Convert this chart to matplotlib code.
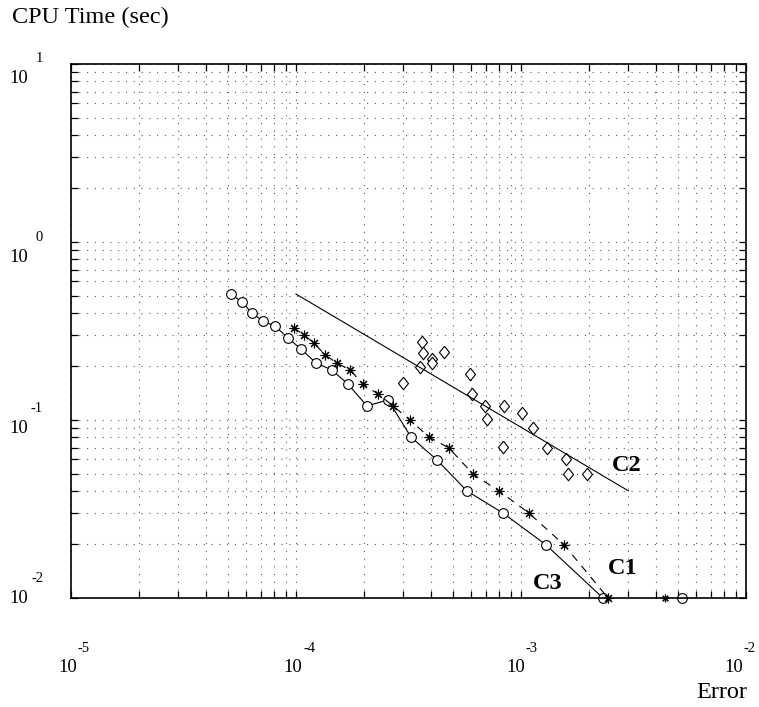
import matplotlib
matplotlib.use("Agg")
import matplotlib.pyplot as plt
from matplotlib.transforms import offset_copy
from matplotlib.ticker import LogLocator, NullFormatter

plt.rcParams['font.family'] = ['Liberation Serif', 'DejaVu Serif']

# C3: circles, solid line
c3_err = [5.14e-5, 5.75e-5, 6.37e-5, 7.13e-5, 8.07e-5, 9.21e-5, 1.052e-4, 1.227e-4,
          1.445e-4, 1.702e-4, 2.068e-4, 2.564e-4, 3.244e-4, 4.233e-4, 5.754e-4,
          8.318e-4, 1.291e-3, 2.314e-3]
c3_cpu = [0.510, 0.460, 0.399, 0.360, 0.337, 0.289, 0.2505, 0.209, 0.191, 0.159,
          0.120, 0.1296, 0.0802, 0.0596, 0.0399, 0.0300, 0.0199, 0.0100]
c3_extra_err = [5.195e-3]
c3_extra_cpu = [0.0100]

# C1: asterisks, dashed line
c1_err = [9.80e-5, 1.085e-4, 1.202e-4, 1.345e-4, 1.521e-4, 1.738e-4, 1.985e-4,
          2.314e-4, 2.698e-4, 3.211e-4, 3.901e-4, 4.786e-4, 6.118e-4, 7.98e-4,
          1.085e-3, 1.553e-3, 2.436e-3]
c1_cpu = [0.329, 0.300, 0.271, 0.232, 0.209, 0.191, 0.159, 0.140, 0.120, 0.100,
          0.0802, 0.0696, 0.0497, 0.0399, 0.0300, 0.0199, 0.0100]
c1_extra_err = [4.365e-3]
c1_extra_cpu = [0.0100]

# C2: diamonds plus fitted straight line
c2_err = [3.63e-4, 3.67e-4, 4.02e-4, 4.02e-4, 4.55e-4, 3.56e-4, 2.99e-4, 5.93e-4,
          6.06e-4, 6.92e-4, 7.06e-4, 8.40e-4, 1.01e-3, 1.13e-3, 8.32e-4, 1.31e-3,
          1.59e-3, 1.62e-3, 1.97e-3]
c2_cpu = [0.274, 0.238, 0.220, 0.209, 0.241, 0.199, 0.161, 0.181, 0.140, 0.120,
          0.101, 0.120, 0.110, 0.090, 0.0705, 0.0696, 0.0604, 0.0497, 0.0497]
c2_fit_err = [1e-4, 3e-3]
c2_fit_cpu = [0.51, 0.04]

x_ticks = [1e-5, 1e-4, 1e-3, 1e-2]
x_exps = ['-5', '-4', '-3', '-2']
y_ticks = [1e1, 1e0, 1e-1, 1e-2]
y_exps = ['1', '0', '-1', '-2']

fig = plt.figure(figsize=(7.59, 7.07), dpi=100)
ax = fig.add_axes([71/759, 1 - 598/707, 675/759, 534/707])
ax.set_xscale('log')
ax.set_yscale('log')
ax.set_xlim(1e-5, 1e-2)
ax.set_ylim(1e-2, 1e1)

ax.xaxis.set_minor_locator(LogLocator(base=10, subs=range(2, 10)))
ax.yaxis.set_minor_locator(LogLocator(base=10, subs=range(2, 10)))
ax.xaxis.set_major_formatter(NullFormatter())
ax.xaxis.set_minor_formatter(NullFormatter())
ax.yaxis.set_major_formatter(NullFormatter())
ax.yaxis.set_minor_formatter(NullFormatter())
ax.tick_params(which='both', direction='in', top=True, right=True,
               length=5, width=0.9, color='black')
for s in ax.spines.values():
    s.set_linewidth(1.2)
ax.grid(True, which='both', color='0.35', linestyle=(0, (1, 6)), linewidth=0.8)
ax.set_axisbelow(True)

mk = dict(color='black', clip_on=False)
ax.plot(c3_err, c3_cpu, '-', lw=0.8, marker='o', ms=7, mfc='white',
        mec='black', mew=0.8, **mk)
ax.plot(c3_extra_err, c3_extra_cpu, 'o', ms=7, mfc='white', mec='black', mew=0.8, **mk)
ax.plot(c1_err, c1_cpu, lw=0.8, linestyle=(0, (7, 6)), marker=(8, 2, 0), ms=7,
        mew=0.8, **mk)
ax.plot(c1_extra_err, c1_extra_cpu, linestyle='none', marker=(8, 2, 0), ms=5.5,
        mew=0.8, **mk)
diamond = [(0, 1), (0.8, 0), (0, -1), (-0.8, 0), (0, 1)]
ax.plot(c2_err, c2_cpu, linestyle='none', marker=diamond, ms=9, mfc='white',
        mec='black', mew=0.8, **mk)
ax.plot(c2_fit_err, c2_fit_cpu, '-', lw=0.8, color='black')

ax.text(2.54e-3, 0.0552, 'C2', fontsize=17.5, fontweight='bold', va='center')
ax.text(2.44e-3, 0.0147, 'C1', fontsize=17.5, fontweight='bold', va='center')
ax.text(1.13e-3, 0.0121, 'C3', fontsize=17.5, fontweight='bold', va='center')

# tick labels drawn as "10" plus raised exponent
x_shift = [6, 6, 4, -3]
for xt, e, dx in zip(x_ticks, x_exps, x_shift):
    tb = offset_copy(ax.get_xaxis_transform(), fig=fig, x=dx, y=-74, units='dots')
    te = offset_copy(ax.get_xaxis_transform(), fig=fig, x=dx + 1, y=-54, units='dots')
    ax.text(xt, 0, '10', transform=tb, ha='right', va='baseline', fontsize=13.5, clip_on=False)
    ax.text(xt, 0, e, transform=te, ha='left', va='baseline', fontsize=10.5, clip_on=False)

y_shift = [-19, -20, -13, -5]
for yt, e, dy in zip(y_ticks, y_exps, y_shift):
    tb = offset_copy(ax.get_yaxis_transform(), fig=fig, x=-43, y=dy, units='dots')
    te = offset_copy(ax.get_yaxis_transform(), fig=fig, x=-28, y=dy + 21, units='dots')
    ax.text(0, yt, '10', transform=tb, ha='right', va='baseline', fontsize=13.5, clip_on=False)
    ax.text(0, yt, e, transform=te, ha='right', va='baseline', fontsize=10.5, clip_on=False)

fig.text(12/759, 1 - 17/707, 'CPU Time (sec)', fontsize=17.5, ha='left', va='center')
fig.text(722/759, 1 - 692/707, 'Error', fontsize=17.5, ha='center', va='center')

fig.savefig('out.png', dpi=100)
